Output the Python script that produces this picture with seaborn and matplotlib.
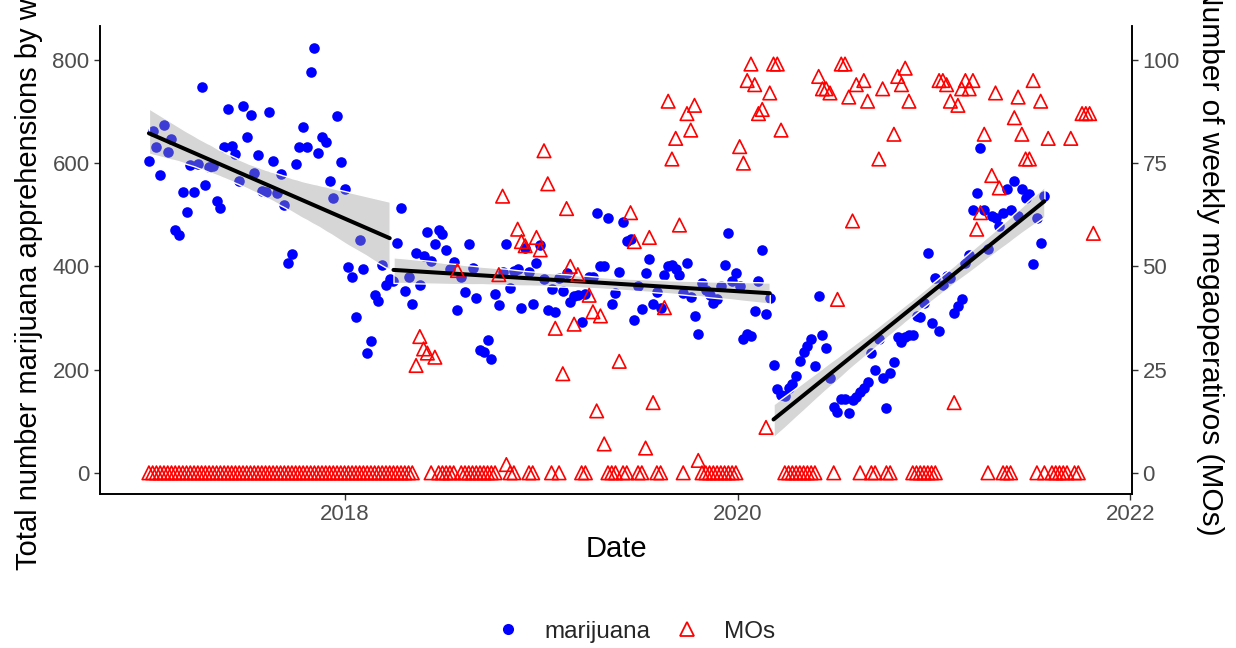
import pandas as pd
import numpy as np
import matplotlib
matplotlib.use("Agg")
import matplotlib.pyplot as plt
import matplotlib.dates as mdates
from matplotlib.lines import Line2D
import seaborn as sns

# weekly series, first week starts 2017-01-01
start_week = "2017-01-01"
# regression is fitted separately on each period
break_dates = ["2018-04-01", "2020-03-08"]

marijuana = [
    604, 662, 632, 577, 674, 622, 646, 471, 461, 544,
    505, 597, 544, 598, 747, 557, 592, 595, 527, 513,
    631, 705, 634, 617, 566, 711, 651, 693, 580, 616,
    546, 545, 700, 604, 542, 579, 519, 407, 424, 599,
    632, 670, 632, 777, 824, 619, 650, 640, 566, 533,
    692, 602, 549, 398, 380, 302, 451, 395, 233, 256,
    345, 332, 402, 364, 375,
    371, 445, 514, 353, 380, 327, 426, 364, 421, 467,
    411, 444, 471, 463, 432, 395, 408, 316, 380, 351,
    444, 397, 338, 237, 235, 258, 221, 346, 325, 389,
    444, 359, 391, 395, 319, 435, 389, 327, 406, 442,
    375, 316, 356, 312, 377, 353, 387, 330, 343, 345,
    293, 347, 380, 380, 504, 400, 401, 493, 327, 348,
    390, 486, 450, 453, 296, 362, 317, 387, 414, 327,
    351, 319, 383, 400, 403, 395, 383, 348, 407, 341,
    304, 269, 367, 354, 345, 329, 336, 362, 403, 465,
    371, 388, 362, 259, 269, 265, 314, 372, 432, 307,
    338,
    209, 162, 150, 148, 165, 172, 188, 216, 235, 245,
    259, 207, 343, 267, 242, 183, 127, 117, 143, 143,
    116, 141, 147, 156, 164, 175, 233, 200, 259, 183,
    125, 193, 214, 263, 254, 264, 267, 267, 304, 301,
    329, 425, 291, 377, 274, 364, 382, 377, 310, 323,
    336, 407, 422, 509, 542, 629, 509, 433, 497, 493,
    478, 503, 550, 509, 566, 498, 550, 532, 540, 404,
    493, 445, 536,
]

mos = [
    0, 0, 0, 0, 0, 0, 0, 0, 0, 0, 0, 0,
    0, 0, 0, 0, 0, 0, 0, 0, 0, 0, 0, 0,
    0, 0, 0, 0, 0, 0, 0, 0, 0, 0, 0, 0,
    0, 0, 0, 0, 0, 0, 0, 0, 0, 0, 0, 0,
    0, 0, 0, 0, 0, 0, 0, 0, 0, 0, 0, 0,
    0, 0, 0, 0, 0, 0, 0, 0, 0, 0, 0,
    26, 33, 30, 29, 0, 28, 0, 0, 0, 0, 0, 49,
    0, 0, 0, 0, 0, 0, 0, 0, 0, 0,
    48, 67, 2, 0, 0, 59, 56, 55, 0, 0, 57, 54,
    78, 70, 0, 35, 0, 24, 64, 50, 36, 48, 0, 0,
    43, 39, 15, 38, 7, 0, 0, 0, 27, 0, 0, 63,
    56, 0, 0, 6, 57, 17, 0, 0, 40, 90, 76, 81,
    60, 0, 87, 83, 89, 3,
    0, 0, 0, 0, 0, 0, 0, 0, 0, 0,
    79, 75, 95, 99, 94, 87, 88, 11, 92, 99, 99, 83,
    0, 0, 0, 0, 0, 0, 0, 0, 0,
    96, 93, 93, 92, 0, 42, 99, 99, 91, 61, 94, 0,
    95, 90, 0, 0, 76, 93, 0, 0, 82, 96, 94, 98,
    90, 0, 0, 0, 0, 0, 0, 0, 95, 95, 94, 90,
    17, 89, 93, 95, 93, 95, 59, 63, 82, 0, 72, 92,
    69, 0, 0, 0, 86, 91, 82, 76, 76, 95, 0, 90,
    0, 81, 0, 0, 0, 0, 0, 81, 0, 0, 87, 87, 87, 58,
]

year_ticks = ["2018-01-01", "2020-01-01", "2022-01-01"]
year_labels = ["2018", "2020", "2022"]

mj = pd.DataFrame({"date": pd.date_range(start_week, periods=len(marijuana), freq="7D"),
                   "marijuana": marijuana})
mj["x"] = mdates.date2num(mj["date"])
mj["period"] = np.searchsorted(pd.to_datetime(break_dates).values, mj["date"].values, side="right")

mo = pd.DataFrame({"date": pd.date_range(start_week, periods=len(mos), freq="7D"), "MOs": mos})
mo["x"] = mdates.date2num(mo["date"])

sns.set_theme(style="ticks")
plt.rcParams["font.family"] = ["Liberation Sans", "DejaVu Sans"]

fig = plt.figure(figsize=(12.36, 6.48), dpi=100)
ax = fig.add_axes([0.0809, 0.2377, 0.835, 0.7216])

sns.scatterplot(data=mj, x="x", y="marijuana", ax=ax, color="#0000FF", s=58,
                linewidth=0, legend=False, zorder=1)

for p, seg in mj.groupby("period"):
    sns.regplot(data=seg, x="x", y="marijuana", ax=ax, scatter=False, ci=95,
                color="black", line_kws={"linewidth": 2.9, "zorder": 3})
    band = ax.collections[-1]
    band.set_alpha(None)
    band.set_facecolor((0.6, 0.6, 0.6, 0.4))
    band.set_zorder(2)

ax.set_ylim(-41, 865)
ax.set_xlim(mdates.date2num(pd.Timestamp("2016-10-02")), mdates.date2num(pd.Timestamp("2022-01-04")))
ax.set_yticks([0, 200, 400, 600, 800])
ax.set_xticks(mdates.date2num(pd.to_datetime(year_ticks)))
ax.set_xticklabels(year_labels)

ax2 = ax.twinx()
sns.scatterplot(data=mo, x="x", y="MOs", ax=ax2, marker="^", s=95, facecolor="none",
                edgecolor="#FF0000", linewidth=1.2, legend=False)
ax2.set_ylim(-41 / 8, 865 / 8)
ax2.set_yticks([0, 25, 50, 75, 100])

for a in (ax, ax2):
    a.spines["top"].set_visible(False)
    for s in ["left", "bottom", "right"]:
        a.spines[s].set_linewidth(1.2)
        a.spines[s].set_color("black")
    a.tick_params(length=4, width=1, color="#333333", labelsize=16, labelcolor="#4D4D4D")

ax.set_xlabel("Date", fontsize=21, color="black", labelpad=7)
ax.set_ylabel("Total number marijuana apprehensions by week", fontsize=21, color="black", labelpad=7)
ax2.set_ylabel("Number of weekly megaoperativos (MOs)", fontsize=21.5, color="black",
               rotation=270, va="bottom", labelpad=12)

handles = [
    Line2D([], [], marker="o", linestyle="none", color="#0000FF", markersize=8, markeredgewidth=0),
    Line2D([], [], marker="^", linestyle="none", markerfacecolor="none", markeredgecolor="#FF0000",
           markersize=10, markeredgewidth=1.3),
]
fig.legend(handles, ["marijuana", "MOs"], loc="center", bbox_to_anchor=(0.514, 0.025), ncol=2,
           frameon=False, fontsize=17.5, handlelength=1.0, handletextpad=1.0, columnspacing=1.0)

plt.savefig("out.png", dpi=100)
